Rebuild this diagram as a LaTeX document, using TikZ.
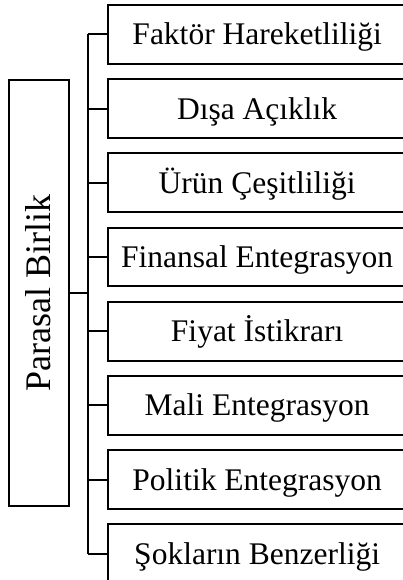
\documentclass[tikz,border=0pt]{standalone}
\usepackage{fontspec}
\setmainfont{Liberation Serif}
\begin{document}
\begin{tikzpicture}[x=1pt,y=-1pt,
  line width=2pt,
  itembox/.style={draw, rectangle, inner sep=0pt, minimum width=297.7pt, minimum height=58.8pt,
    anchor=north west, font=\fontsize{31.5}{36}\selectfont, text height=24pt, text depth=3pt},
  rootbox/.style={draw, rectangle, inner sep=0pt, rotate=90, minimum width=425.7pt, minimum height=60pt,
    font=\fontsize{36}{40}\selectfont, text height=26pt, text depth=3.4pt},
  conn/.style={draw, line width=2pt}]
\useasboundingbox (0,0) rectangle (403,580);
\node[rootbox] (root) at (38.7,292.9) {Parasal Birlik};
\coordinate (tx) at (88.3,0);
\node[itembox] (b1) at (107.3,4) {Faktör Hareketliliği};
\node[itembox] (b2) at (107.3,78.2) {Dışa Açıklık};
\node[itembox] (b3) at (107.3,152.4) {Ürün Çeşitliliği};
\node[itembox] (b4) at (107.3,226.6) {Finansal Entegrasyon};
\node[itembox] (b5) at (107.3,300.8) {Fiyat İstikrarı};
\node[itembox] (b6) at (107.3,375) {Mali Entegrasyon};
\node[itembox] (b7) at (107.3,449.2) {Politik Entegrasyon};
\node[itembox] (b8) at (107.3,523.4) {Şokların Benzerliği};
\draw[conn] (b1.west -| tx) -- (b8.west -| tx);
\draw[conn] (root.south) -- (root.south -| tx);
\foreach \b in {b1,b2,b3,b4,b5,b6,b7,b8}{
  \draw[conn] (\b.west -| tx) -- (\b.west);
}
\end{tikzpicture}
\end{document}
